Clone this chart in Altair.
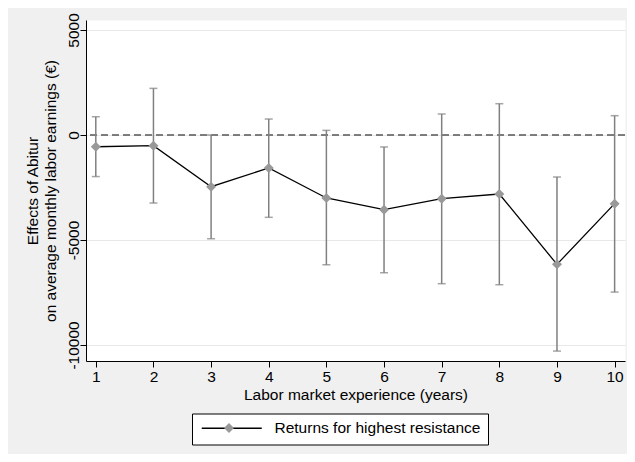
import altair as alt
import pandas as pd

# ---- data ----
years = [1, 2, 3, 4, 5, 6, 7, 8, 9, 10]
effect = [-560, -510, -2460, -1570, -3000, -3555, -3030, -2810, -6160, -3270]
ci_lower = [-1980, -3240, -4940, -3920, -6180, -6560, -7080, -7130, -10290, -7480]
ci_upper = [870, 2220, 0, 760, 220, -570, 1000, 1490, -2000, 920]
series_label = "Returns for highest resistance"
y_tick_values = [-10000, -5000, 0, 5000]
x_tick_values = years
reference_line = [0]

df = pd.DataFrame({
    "year": years,
    "effect": effect,
    "lo": ci_lower,
    "hi": ci_upper,
    "series": [series_label] * len(years),
    "marker": ["marker"] * len(years),
})
ref_df = pd.DataFrame({"ref": reference_line})

FONT = "Liberation Sans"
FS = 15.5

xscale = alt.Scale(domain=[0.83, 10.18], nice=False, zero=False)
yscale = alt.Scale(domain=[-10762, 5476], nice=False, zero=False)

xaxis = alt.Axis(values=x_tick_values, format="d", grid=False,
                 title="Labor market experience (years)",
                 labelPadding=2, titlePadding=3, tickSize=6)
yaxis = alt.Axis(values=y_tick_values, grid=True,
                 labelExpr="'' + datum.value",
                 title=["Effects of Abitur", "on average monthly labor earnings (€)"],
                 labelAngle=270, labelAlign="center", labelBaseline="alphabetic",
                 labelPadding=2, tickSize=6, titlePadding=8, titleLineHeight=17.5)

X = lambda f: alt.X(f, scale=xscale, axis=xaxis)
Y = lambda f: alt.Y(f, scale=yscale, axis=yaxis)

base = alt.Chart(df)

zero = alt.Chart(ref_df).mark_rule(color="#555555", strokeWidth=1.5, strokeDash=[7, 4]).encode(
    y=Y("ref:Q")
)

bars = base.mark_rule(color="#808080", strokeWidth=1.5).encode(
    x=X("year:Q"), y=Y("lo:Q"), y2="hi:Q"
)
cap_lo = base.mark_tick(orient="horizontal", size=8, thickness=1.5, color="#808080").encode(
    x=X("year:Q"), y=Y("lo:Q")
)
cap_hi = base.mark_tick(orient="horizontal", size=8, thickness=1.5, color="#808080").encode(
    x=X("year:Q"), y=Y("hi:Q")
)

line = base.mark_line(strokeWidth=1.3).encode(
    x=X("year:Q"), y=Y("effect:Q"),
    color=alt.Color("series:N",
                    scale=alt.Scale(domain=[series_label], range=["black"]),
                    legend=alt.Legend(orient="none", legendX=106, legendY=393.5, title=None,
                                      padding=7, strokeColor="black", fillColor="white",
                                      symbolType="M-6,0H6", symbolSize=100, symbolOffset=25,
                                      symbolStrokeWidth=1.3, symbolStrokeColor="black",
                                      labelFont=FONT, labelFontSize=FS, labelColor="black",
                                      labelOffset=35, labelLimit=600)),
)

points = base.mark_point(filled=True, size=100, color="#999999", opacity=1).encode(
    x=X("year:Q"), y=Y("effect:Q"),
    shape=alt.Shape("marker:N",
                    scale=alt.Scale(domain=["marker"], range=["diamond"]),
                    legend=alt.Legend(orient="none", legendX=138, legendY=403, title=None,
                                      padding=0, symbolSize=100, symbolType="diamond",
                                      symbolFillColor="#999999", symbolStrokeWidth=0,
                                      labelExpr="''", labelFontSize=10, labelOffset=0)),
)

chart = alt.layer(zero, bars, cap_lo, cap_hi, line, points).properties(
    width=539, height=341,
    background="#f0f0f0",
    padding={"left": 78, "top": 12, "right": 2, "bottom": 93},
    autosize=alt.AutoSizeParams(type="none"),
).configure_view(
    fill="white", stroke="transparent"
).configure_axis(
    labelFont=FONT, titleFont=FONT, labelFontSize=FS, titleFontSize=FS,
    labelColor="black", titleColor="black", titleFontWeight="normal",
    domainColor="black", domainWidth=1, tickColor="black", tickWidth=1,
    gridColor="#e8e8e8", gridWidth=1,
)

chart.save("out.html", embed_options={"renderer": "svg", "actions": False})
